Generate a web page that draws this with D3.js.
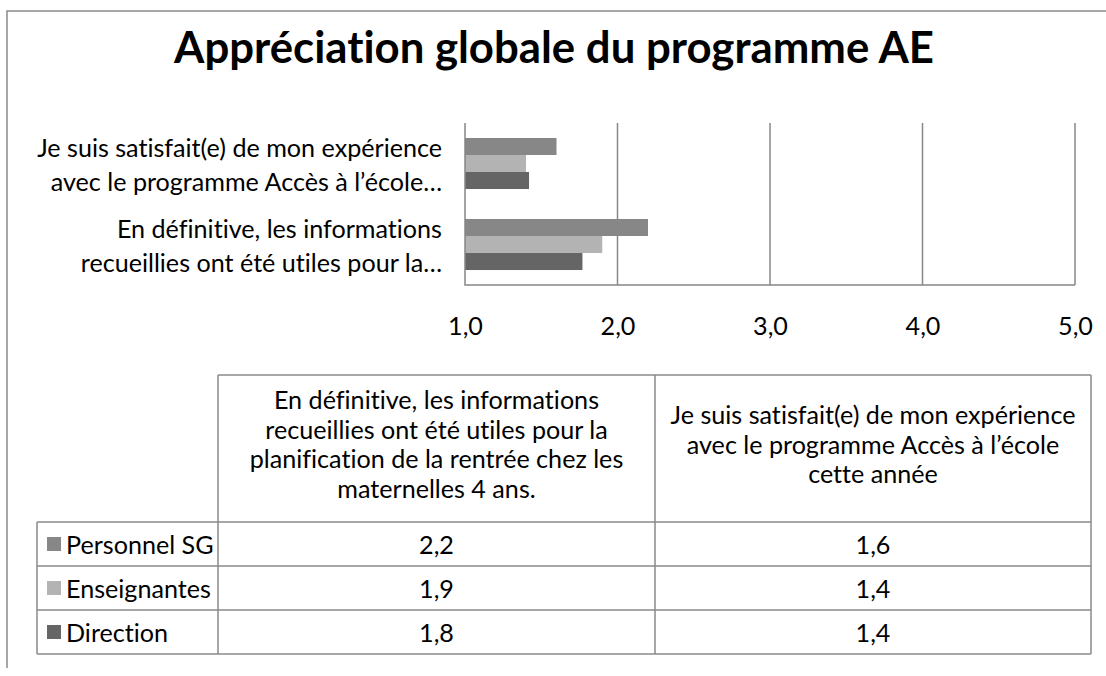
<!DOCTYPE html>
<html>
<head>
<meta charset="utf-8">
<script src="https://cdn.jsdelivr.net/npm/d3@7"></script>
<style>
  html, body { margin: 0; padding: 0; background: #fff; }
  svg { display: block; }
  text { font-family: Lato, "Open Sans", sans-serif; fill: #000; font-variant-ligatures: none; font-feature-settings: "liga" 0, "clig" 0; }
</style>
</head>
<body>
<svg id="chart" width="1106" height="676"></svg>
<script>
// ---------- DATA ----------
const title = "Appréciation globale du programme AE";
const categories = [
  "En définitive, les informations recueillies ont été utiles pour la planification de la rentrée chez les maternelles 4 ans.",
  "Je suis satisfait(e) de mon expérience avec le programme Accès à l’école cette année"
];
const axisLabelLines = [
  ["En définitive, les informations", "recueillies ont été utiles pour la…"],
  ["Je suis satisfait(e) de mon expérience", "avec le programme Accès à l’école…"]
];
const headerLines = [
  ["En définitive, les informations", "recueillies ont été utiles pour la", "planification de la rentrée chez les", "maternelles 4 ans."],
  ["Je suis satisfait(e) de mon expérience", "avec le programme Accès à l’école", "cette année"]
];
const seriesNames = ["Personnel SG", "Enseignantes", "Direction"];
const personnelSG = [2.2, 1.6];
const enseignantes = [1.9, 1.4];
const direction = [1.77, 1.42];
const tickValues = [1, 2, 3, 4, 5];
const seriesColors = ["#878787", "#b3b3b3", "#656565"];

const seriesValues = [personnelSG, enseignantes, direction];

// ---------- LAYOUT ----------
const svg = d3.select("#chart");
const gridColor = "#878787";
const plot = { left: 465, right: 1075, top: 123, bottom: 285 };
const table = { left: 37, legendRight: 218, colRight: [655, 1091], top: 375, headerBottom: 522, rowH: 44 };

function fitSize(str, weight, targetWidth) {
  const t = svg.append("text").attr("font-size", 100).attr("font-weight", weight).text(str);
  const w = t.node().getComputedTextLength();
  t.remove();
  return 100 * targetWidth / w;
}
const titleSize = fitSize(title, "bold", 760);
const bodySize = fitSize("Je suis satisfait(e) de mon expérience", "normal", 405);

// outer frame
svg.append("path")
  .attr("d", "M7,668 L7,11 L1106,11")
  .attr("fill", "none").attr("stroke", "#8a8a8a").attr("stroke-width", 1.5);

// title
svg.append("text")
  .attr("x", 554).attr("y", 46)
  .attr("text-anchor", "middle").attr("dominant-baseline", "central")
  .attr("font-weight", "bold").attr("font-size", titleSize)
  .text(title);

// scales
const x = d3.scaleLinear().domain([1, 5]).range([plot.left, plot.right]);
const y = d3.scaleBand()
  .domain([categories[1], categories[0]])
  .range([plot.top, plot.bottom])
  .paddingInner(0.37).paddingOuter(0.185);
const ySub = d3.scaleBand().domain(seriesNames).range([0, y.bandwidth()]);

// gridlines
svg.append("g").selectAll("line").data(tickValues.slice(1)).join("line")
  .attr("x1", d => x(d)).attr("x2", d => x(d))
  .attr("y1", plot.top).attr("y2", plot.bottom)
  .attr("stroke", gridColor).attr("stroke-width", 1.5);

// bars
seriesNames.forEach((s, si) => {
  svg.append("g").selectAll("rect").data(categories).join("rect")
    .attr("x", x(1))
    .attr("y", c => y(c) + ySub(s))
    .attr("width", (c, ci) => x(seriesValues[si][ci]) - x(1))
    .attr("height", ySub.bandwidth())
    .attr("fill", seriesColors[si]);
});

// axis lines
svg.append("path")
  .attr("d", `M${plot.left},${plot.top} L${plot.left},${plot.bottom} L${plot.right},${plot.bottom}`)
  .attr("fill", "none").attr("stroke", gridColor).attr("stroke-width", 1.5);

// x tick labels
const fmt = v => d3.format(".1f")(v).replace(".", ",");
const xAxis = svg.append("g")
  .attr("transform", `translate(0,${plot.bottom})`)
  .call(d3.axisBottom(x).tickValues(tickValues).tickFormat(fmt).tickSize(0).tickPadding(32));
xAxis.select(".domain").remove();
xAxis.selectAll("text")
  .attr("font-size", bodySize).attr("font-family", "Lato, 'Open Sans', sans-serif").attr("fill", "#000");

// category labels
const lineH = 34;
categories.forEach((c, ci) => {
  const cy = y(c) + y.bandwidth() / 2;
  const lines = axisLabelLines[ci];
  const t = svg.append("text")
    .attr("text-anchor", "end").attr("font-size", bodySize);
  lines.forEach((ln, li) => {
    t.append("tspan")
      .attr("x", 442)
      .attr("y", cy + (li - (lines.length - 1) / 2) * lineH)
      .attr("dominant-baseline", "central")
      .text(ln);
  });
});

// ---------- DATA TABLE ----------
const tg = svg.append("g");
const colLeft = [table.legendRight, table.colRight[0]];
const tableBottom = table.headerBottom + seriesNames.length * table.rowH;

function line(x1, y1, x2, y2) {
  tg.append("line").attr("x1", x1).attr("y1", y1).attr("x2", x2).attr("y2", y2)
    .attr("stroke", "#8a8a8a").attr("stroke-width", 1.5);
}
line(table.legendRight, table.top, table.colRight[1], table.top);
line(table.legendRight, table.top, table.legendRight, tableBottom);
line(table.colRight[0], table.top, table.colRight[0], tableBottom);
line(table.colRight[1], table.top, table.colRight[1], tableBottom);
for (let r = 0; r <= seriesNames.length; r++) {
  const yy = table.headerBottom + r * table.rowH;
  line(table.left, yy, table.colRight[1], yy);
}
line(table.left, table.headerBottom, table.left, tableBottom);

// header text
const headLineH = 29.5;
headerLines.forEach((lines, ci) => {
  const cx = (colLeft[ci] + table.colRight[ci]) / 2;
  const cy = (table.top + table.headerBottom) / 2 - 5;
  const t = tg.append("text").attr("text-anchor", "middle").attr("font-size", bodySize);
  lines.forEach((ln, li) => {
    t.append("tspan").attr("x", cx)
      .attr("y", cy + (li - (lines.length - 1) / 2) * headLineH)
      .attr("dominant-baseline", "central").text(ln);
  });
});

// rows
seriesNames.forEach((s, si) => {
  const cy = table.headerBottom + si * table.rowH + table.rowH / 2;
  tg.append("rect").attr("x", 47).attr("y", cy - 7).attr("width", 14).attr("height", 14)
    .attr("fill", seriesColors[si]);
  tg.append("text").attr("x", 66).attr("y", cy).attr("dominant-baseline", "central")
    .attr("font-size", bodySize).text(s);
  categories.forEach((c, ci) => {
    const cx = (colLeft[ci] + table.colRight[ci]) / 2;
    tg.append("text").attr("x", cx).attr("y", cy).attr("text-anchor", "middle")
      .attr("dominant-baseline", "central").attr("font-size", bodySize)
      .text(fmt(seriesValues[si][ci]));
  });
});
</script>
</body>
</html>
